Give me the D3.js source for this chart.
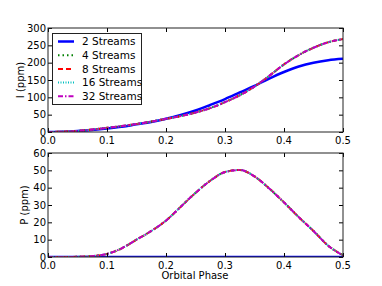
<!DOCTYPE html>
<html>
<head>
<meta charset="UTF-8">
<script src="https://cdn.jsdelivr.net/npm/d3@7/dist/d3.min.js"></script>
<style>
  body { margin: 0; background: #fff; }
  text { font-family: "DejaVu Sans", sans-serif; font-size: 10px; fill: #000; }
  .legtxt { font-size: 10.5px; }
</style>
</head>
<body>
<svg width="382" height="286"></svg>
<script>
// orbital phase samples
var phase = [0, 0.025, 0.05, 0.075, 0.1, 0.125, 0.15, 0.175, 0.2, 0.225, 0.25,
             0.275, 0.3, 0.325, 0.35, 0.375, 0.4, 0.425, 0.45, 0.475, 0.5];
// intensity (ppm)
var I2  = [0, 1, 3, 6, 10, 15, 22, 29, 38, 49, 62, 78, 95, 114, 133, 154, 173, 189, 200, 207, 211];
var Ihi = [0, 1, 3, 7, 12, 17, 23, 30, 38, 46, 56, 69, 86, 106, 131, 162, 195, 222, 243, 259, 268];
// polarisation (ppm)
var P2  = [0, 0, 0, 0, 0, 0, 0, 0, 0, 0, 0, 0, 0, 0, 0, 0, 0, 0, 0, 0, 0];
var Phi = [0, 0, 0.1, 0.5, 1.8, 5, 10, 15, 21, 29, 37, 44, 49, 50.2, 46.5, 39.5, 31.5, 23, 15, 6.5, 1];

var streams = ["2 Streams", "4 Streams", "8 Streams", "16 Streams", "32 Streams"];
var xTicks = [0, 0.1, 0.2, 0.3, 0.4, 0.5];

var series = [
  {name: streams[0], I: I2,  P: P2,  color: "#0000ff", dash: null,  w: 2.5},
  {name: streams[1], I: Ihi, P: Phi, color: "#008000", dash: "1.5,3", w: 2},
  {name: streams[2], I: Ihi, P: Phi, color: "#ff0000", dash: "5,3", w: 2},
  {name: streams[3], I: Ihi, P: Phi, color: "#00bfbf", dash: "1,1.5", w: 2},
  {name: streams[4], I: Ihi, P: Phi, color: "#bf00bf", dash: "5,2,1.5,2", w: 2}
];

var svg = d3.select("svg");
var x = d3.scaleLinear().domain([0, 0.5]).range([48, 343]);

function panel(top, bottom, yMax, yStep, key, label, labelX) {
  var y = d3.scaleLinear().domain([0, yMax]).range([bottom, top]);
  var g = svg.append("g");
  var clipId = "clip" + key;
  g.append("clipPath").attr("id", clipId).append("rect")
    .attr("x", 48).attr("y", top - 3).attr("width", 295).attr("height", bottom - top + 3);

  var line = d3.line()
    .x(function(d, i){ return x(phase[i]); })
    .y(function(d){ return y(d); })
    .curve(d3.curveMonotoneX);

  series.forEach(function(s){
    g.append("path")
      .attr("d", line(s[key]))
      .attr("fill", "none")
      .attr("clip-path", "url(#" + clipId + ")")
      .attr("stroke", s.color)
      .attr("stroke-width", s.w)
      .attr("stroke-dasharray", s.dash);
  });

  var yTicks = d3.range(0, yMax + 0.001, yStep);
  // inward ticks on all sides
  g.append("g").attr("transform", "translate(48,0)")
    .call(d3.axisRight(y).tickValues(yTicks).tickSize(4).tickFormat(""))
    .call(function(a){ a.select(".domain").remove(); });
  g.append("g").attr("transform", "translate(343,0)")
    .call(d3.axisLeft(y).tickValues(yTicks).tickSize(4).tickFormat(""))
    .call(function(a){ a.select(".domain").remove(); });
  g.append("g").attr("transform", "translate(0," + bottom + ")")
    .call(d3.axisTop(x).tickValues(xTicks).tickSize(4).tickFormat(""))
    .call(function(a){ a.select(".domain").remove(); });
  g.append("g").attr("transform", "translate(0," + top + ")")
    .call(d3.axisBottom(x).tickValues(xTicks).tickSize(4).tickFormat(""))
    .call(function(a){ a.select(".domain").remove(); });
  g.selectAll(".tick line").attr("stroke", "#000");

  g.selectAll(".ylab").data(yTicks).enter().append("text")
    .attr("x", 46).attr("y", function(d){ return y(d); })
    .attr("dy", "0.36em").attr("text-anchor", "end")
    .text(function(d){ return d; });
  g.selectAll(".xlab").data(xTicks).enter().append("text")
    .attr("x", function(d){ return x(d); }).attr("y", bottom + 12)
    .attr("text-anchor", "middle")
    .text(function(d){ return d.toFixed(1); });

  g.append("rect").attr("x", 48).attr("y", top).attr("width", 295).attr("height", bottom - top)
    .attr("fill", "none").attr("stroke", "#222").attr("stroke-width", 1);

  g.append("text")
    .attr("transform", "translate(" + labelX + "," + ((top + bottom) / 2) + ") rotate(-90)")
    .attr("text-anchor", "middle")
    .text(label);
  return y;
}

panel(28, 132, 300, 50, "I", "I (ppm)", 24);
panel(153, 257, 60, 10, "P", "P (ppm)", 28);

svg.append("text").attr("x", 195).attr("y", 279).attr("text-anchor", "middle").text("Orbital Phase");

// legend
var leg = svg.append("g");
leg.append("rect").attr("x", 52.5).attr("y", 33.5).attr("width", 89).attr("height", 71)
  .attr("fill", "#fff").attr("stroke", "#222").attr("stroke-width", 1);
series.forEach(function(s, i){
  var yy = 41.5 + i * 13.7;
  leg.append("line").attr("x1", 58).attr("x2", 74).attr("y1", yy).attr("y2", yy)
    .attr("stroke", s.color).attr("stroke-width", s.w).attr("stroke-dasharray", s.dash);
  leg.append("text").attr("class", "legtxt").attr("x", 82).attr("y", yy).attr("dy", "0.36em").text(s.name);
});
</script>
</body>
</html>
